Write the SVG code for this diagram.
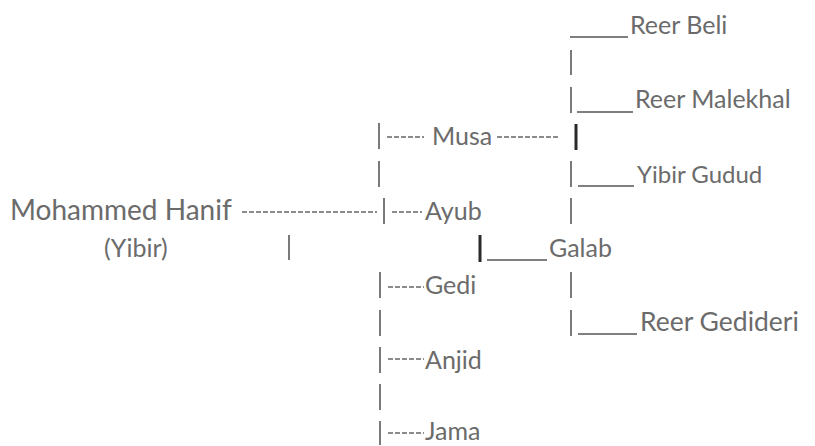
<svg xmlns="http://www.w3.org/2000/svg" width="815" height="446" viewBox="0 0 815 446">
<style>
text{font-family:Lato,"Liberation Sans",sans-serif;font-size:25px;fill:#6b6b6b}
.p{stroke:#7a7a7a;stroke-width:2}
.pk{stroke:#2a2a2a;stroke-width:3}
.d{stroke:#666;stroke-width:1.3;stroke-dasharray:5 2}
.u{stroke:#555;stroke-width:1.5}
</style>
<rect width="815" height="446" fill="#fff"/>
<g id="connectors">
<line class="u" x1="570" y1="37" x2="628" y2="37"/>
<line class="p" x1="571" y1="50" x2="571" y2="75"/>
<line class="p" x1="571" y1="87" x2="571" y2="113"/>
<line class="u" x1="577" y1="112" x2="633" y2="112"/>
<line class="p" x1="379" y1="123" x2="379" y2="149"/>
<line class="d" x1="387" y1="137" x2="424" y2="137"/>
<line class="d" x1="497" y1="137" x2="560" y2="137"/>
<line class="pk" x1="576" y1="124" x2="576" y2="150"/>
<line class="p" x1="379" y1="161" x2="379" y2="187"/>
<line class="p" x1="571" y1="161" x2="571" y2="187"/>
<line class="u" x1="578" y1="186" x2="634" y2="186"/>
<line class="d" x1="242" y1="212" x2="377" y2="212"/>
<line class="p" x1="384" y1="198" x2="384" y2="224"/>
<line class="d" x1="392" y1="212" x2="422" y2="212"/>
<line class="p" x1="571" y1="198" x2="571" y2="224"/>
<line class="p" x1="289" y1="235" x2="289" y2="260"/>
<line class="pk" x1="480" y1="235" x2="480" y2="262"/>
<line class="u" x1="487" y1="260" x2="547" y2="260"/>
<line class="p" x1="380" y1="272" x2="380" y2="298"/>
<line class="d" x1="388" y1="287" x2="424" y2="287"/>
<line class="p" x1="571" y1="272" x2="571" y2="298"/>
<line class="p" x1="380" y1="310" x2="380" y2="336"/>
<line class="p" x1="571" y1="310" x2="571" y2="336"/>
<line class="u" x1="578" y1="334" x2="637" y2="334"/>
<line class="p" x1="380" y1="347" x2="380" y2="373"/>
<line class="d" x1="388" y1="359" x2="424" y2="359"/>
<line class="p" x1="380" y1="384" x2="380" y2="410"/>
<line class="p" x1="380" y1="421" x2="380" y2="445"/>
<line class="d" x1="388" y1="433" x2="424" y2="433"/>
</g>
<g id="n-mohammed"><text x="10" y="220" style="font-size:28px">Mohammed Hanif</text><text x="104" y="257">(Yibir)</text></g>
<g id="n-musa"><text x="432" y="145">Musa</text></g>
<g id="n-ayub"><text x="425" y="220">Ayub</text></g>
<g id="n-gedi"><text x="425" y="294">Gedi</text></g>
<g id="n-anjid"><text x="425" y="369">Anjid</text></g>
<g id="n-jama"><text x="425" y="440">Jama</text></g>
<g id="n-galab"><text x="549" y="257">Galab</text></g>
<g id="n-reer-beli"><text x="630" y="34">Reer Beli</text></g>
<g id="n-reer-malekhal"><text x="635" y="108">Reer Malekhal</text></g>
<g id="n-yibir-gudud"><text x="637" y="183" style="font-size:24px">Yibir Gudud</text></g>
<g id="n-reer-gedideri"><text x="640" y="331" style="font-size:26.5px">Reer Gedideri</text></g>
</svg>
